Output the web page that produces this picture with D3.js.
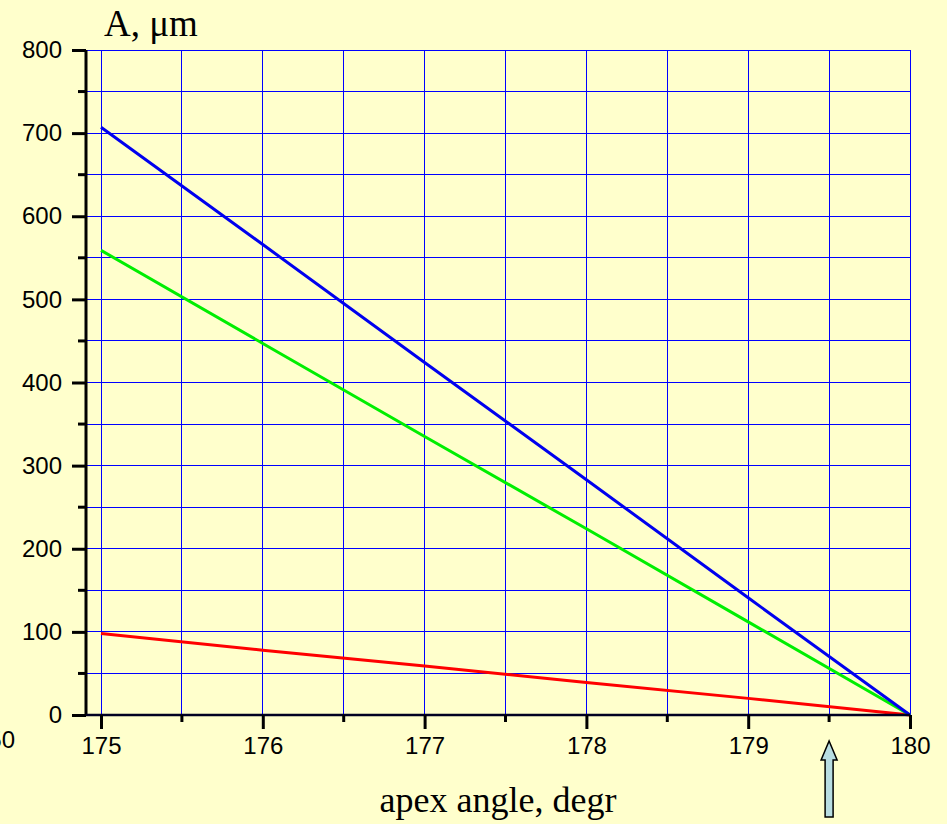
<!DOCTYPE html>
<html><head><meta charset="utf-8">
<script src="https://cdn.jsdelivr.net/npm/d3@7"></script>
<style>
html,body{margin:0;padding:0;background:#FFFFCC;}
svg{display:block;}
</style></head>
<body>
<svg id="chart" width="947" height="824"></svg>
<script>
// ---- data ----
const angles = [175, 176, 177, 178, 179, 180];
const blueValues = [707, 566, 424, 283, 141, 0];
const greenValues = [559, 447, 335, 224, 112, 0];
const redValues = [98, 78, 59, 39, 20, 0];
const xMajorTicks = [175, 176, 177, 178, 179, 180];
const xMinorTicks = [175.5, 176.5, 177.5, 178.5, 179.5];
const yMajorTicks = [0, 100, 200, 300, 400, 500, 600, 700, 800];
const yMinorTicks = [50, 150, 250, 350, 450, 550, 650, 750];
const yTitle = "A, \u03bcm";
const xTitle = "apex angle, degr";
const arrowAngle = 179.5;

const svg = d3.select("#chart");
svg.append("rect").attr("width",947).attr("height",824).attr("fill","#FFFFCC");

const x = d3.scaleLinear().domain([175, 180]).range([101, 910]);
const y = d3.scaleLinear().domain([0, 800]).range([715, 50]);
const axisX = 86;
const left = x.invert(axisX);

// grid
const grid = svg.append("g").attr("stroke","#0000ff").attr("stroke-width",1).attr("shape-rendering","crispEdges");
[...xMajorTicks, ...xMinorTicks].forEach(v=>{
  grid.append("line").attr("x1",x(v)).attr("x2",x(v)).attr("y1",y(800)).attr("y2",y(0));
});
[...yMajorTicks, ...yMinorTicks].forEach(v=>{
  grid.append("line").attr("x1",axisX).attr("x2",x(180)).attr("y1",y(v)).attr("y2",y(v));
});

// series
const line = d3.line().x((d,i)=>x(angles[i])).y(d=>y(d));
[[redValues,"#ff0000"],[greenValues,"#00ee00"],[blueValues,"#0000ee"]].forEach(([vals,col])=>{
  svg.append("path").datum(vals).attr("d",line).attr("fill","none")
    .attr("stroke",col).attr("stroke-width",3);
});

// y axis
const yAxis = svg.append("g").attr("transform",`translate(${axisX},0)`);
yAxis.call(d3.axisLeft(y).tickValues(yMajorTicks).tickSize(14).tickPadding(10).tickFormat(d3.format("d")));
yAxis.append("g").selectAll("line").data(yMinorTicks).join("line")
  .attr("x1",-8).attr("x2",0).attr("y1",d=>y(d)).attr("y2",d=>y(d));
yAxis.selectAll("line").attr("stroke","#000").attr("stroke-width",3);
yAxis.select(".domain").attr("d",`M0,${y(800)}V${y(0)}`).attr("stroke","#000").attr("stroke-width",3);
yAxis.selectAll("text").attr("font-family","Liberation Sans, Arial, sans-serif").attr("font-size",24).attr("fill","#000");

// x axis
const xAxis = svg.append("g").attr("transform",`translate(0,${y(0)})`);
const xs = d3.scaleLinear().domain([left,180]).range([axisX,910]);
xAxis.call(d3.axisBottom(xs).tickValues(xMajorTicks).tickSize(14).tickPadding(8).tickFormat(d3.format("d")));
xAxis.append("g").selectAll("line").data(xMinorTicks).join("line")
  .attr("x1",d=>xs(d)).attr("x2",d=>xs(d)).attr("y1",0).attr("y2",7);
xAxis.selectAll("line").attr("stroke","#000").attr("stroke-width",3);
xAxis.select(".domain").attr("d",`M${axisX},0H${x(180)}`).attr("stroke","#000022").attr("stroke-width",2.5);
xAxis.selectAll("text").attr("font-family","Liberation Sans, Arial, sans-serif").attr("font-size",24).attr("fill","#000");

// stray partial label at far left (cut off by the edge, as in the reference)
svg.append("text").attr("x",15).attr("y",748).attr("text-anchor","end")
  .attr("font-family","Liberation Sans, Arial, sans-serif").attr("font-size",24).text("50");

// titles
svg.append("text").attr("x",104).attr("y",36).attr("font-family","Liberation Serif, Times New Roman, serif")
  .attr("font-size",37).attr("fill","#000").text(yTitle);
svg.append("text").attr("x",498).attr("y",812).attr("text-anchor","middle")
  .attr("font-family","Liberation Serif, Times New Roman, serif")
  .attr("font-size",36).attr("fill","#000").text(xTitle);

// arrow
const ax = x(arrowAngle);
const arrowPts = [[ax,741],[ax+8,760],[ax+4,760],[ax+4,817],[ax-4,817],[ax-4,760],[ax-8,760]];
svg.append("polygon").attr("points",arrowPts.map(p=>p.join(",")).join(" "))
  .attr("fill","#b8dde2").attr("stroke","#000").attr("stroke-width",1.5).attr("stroke-linejoin","miter");
</script>
</body></html>
